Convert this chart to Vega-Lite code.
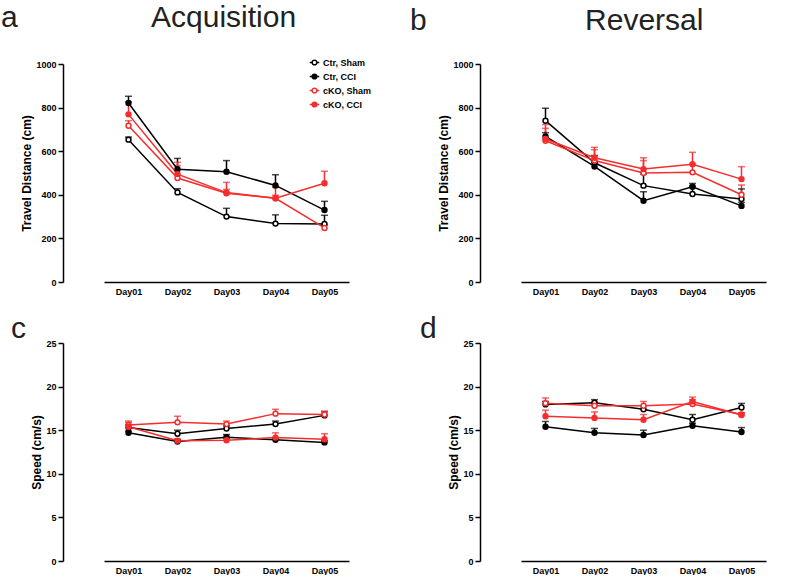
{
  "$schema": "https://vega.github.io/schema/vega-lite/v6.json",
  "background": "white",
  "padding": {"top": 3, "left": 0, "right": 0, "bottom": 0},
  "datasets": {
    "dist": [
      {"phase": "Acquisition", "group": "Ctr, Sham", "day": "Day01", "value": 653, "hi": 665},
      {"phase": "Acquisition", "group": "Ctr, Sham", "day": "Day02", "value": 411, "hi": 428},
      {"phase": "Acquisition", "group": "Ctr, Sham", "day": "Day03", "value": 300, "hi": 338},
      {"phase": "Acquisition", "group": "Ctr, Sham", "day": "Day04", "value": 268, "hi": 308},
      {"phase": "Acquisition", "group": "Ctr, Sham", "day": "Day05", "value": 266, "hi": 306},
      {"phase": "Acquisition", "group": "Ctr, CCI", "day": "Day01", "value": 821, "hi": 852},
      {"phase": "Acquisition", "group": "Ctr, CCI", "day": "Day02", "value": 517, "hi": 567},
      {"phase": "Acquisition", "group": "Ctr, CCI", "day": "Day03", "value": 506, "hi": 557},
      {"phase": "Acquisition", "group": "Ctr, CCI", "day": "Day04", "value": 443, "hi": 492},
      {"phase": "Acquisition", "group": "Ctr, CCI", "day": "Day05", "value": 330, "hi": 370},
      {"phase": "Acquisition", "group": "cKO, Sham", "day": "Day01", "value": 717, "hi": 740},
      {"phase": "Acquisition", "group": "cKO, Sham", "day": "Day02", "value": 477, "hi": 534},
      {"phase": "Acquisition", "group": "cKO, Sham", "day": "Day03", "value": 407, "hi": 425},
      {"phase": "Acquisition", "group": "cKO, Sham", "day": "Day04", "value": 384, "hi": 398},
      {"phase": "Acquisition", "group": "cKO, Sham", "day": "Day05", "value": 248, "hi": 262},
      {"phase": "Acquisition", "group": "cKO, CCI", "day": "Day01", "value": 769, "hi": 827},
      {"phase": "Acquisition", "group": "cKO, CCI", "day": "Day02", "value": 495, "hi": 549},
      {"phase": "Acquisition", "group": "cKO, CCI", "day": "Day03", "value": 410, "hi": 457},
      {"phase": "Acquisition", "group": "cKO, CCI", "day": "Day04", "value": 384, "hi": 434},
      {"phase": "Acquisition", "group": "cKO, CCI", "day": "Day05", "value": 453, "hi": 508},
      {"phase": "Reversal", "group": "Ctr, Sham", "day": "Day01", "value": 740, "hi": 797},
      {"phase": "Reversal", "group": "Ctr, Sham", "day": "Day02", "value": 547, "hi": 580},
      {"phase": "Reversal", "group": "Ctr, Sham", "day": "Day03", "value": 442, "hi": 495},
      {"phase": "Reversal", "group": "Ctr, Sham", "day": "Day04", "value": 404, "hi": 440},
      {"phase": "Reversal", "group": "Ctr, Sham", "day": "Day05", "value": 381, "hi": 427},
      {"phase": "Reversal", "group": "Ctr, CCI", "day": "Day01", "value": 668, "hi": 685},
      {"phase": "Reversal", "group": "Ctr, CCI", "day": "Day02", "value": 530, "hi": 550},
      {"phase": "Reversal", "group": "Ctr, CCI", "day": "Day03", "value": 373, "hi": 414},
      {"phase": "Reversal", "group": "Ctr, CCI", "day": "Day04", "value": 437, "hi": 452},
      {"phase": "Reversal", "group": "Ctr, CCI", "day": "Day05", "value": 349, "hi": 365},
      {"phase": "Reversal", "group": "cKO, Sham", "day": "Day01", "value": 648, "hi": 705},
      {"phase": "Reversal", "group": "cKO, Sham", "day": "Day02", "value": 557, "hi": 607},
      {"phase": "Reversal", "group": "cKO, Sham", "day": "Day03", "value": 500, "hi": 557},
      {"phase": "Reversal", "group": "cKO, Sham", "day": "Day04", "value": 503, "hi": 540},
      {"phase": "Reversal", "group": "cKO, Sham", "day": "Day05", "value": 400, "hi": 445},
      {"phase": "Reversal", "group": "cKO, CCI", "day": "Day01", "value": 656, "hi": 722},
      {"phase": "Reversal", "group": "cKO, CCI", "day": "Day02", "value": 570, "hi": 618},
      {"phase": "Reversal", "group": "cKO, CCI", "day": "Day03", "value": 518, "hi": 570},
      {"phase": "Reversal", "group": "cKO, CCI", "day": "Day04", "value": 540, "hi": 595},
      {"phase": "Reversal", "group": "cKO, CCI", "day": "Day05", "value": 472, "hi": 529}
    ],
    "speed": [
      {"phase": "Acquisition", "group": "Ctr, Sham", "day": "Day01", "value": 15.3, "hi": 15.6},
      {"phase": "Acquisition", "group": "Ctr, Sham", "day": "Day02", "value": 14.6, "hi": 15.0},
      {"phase": "Acquisition", "group": "Ctr, Sham", "day": "Day03", "value": 15.2, "hi": 15.5},
      {"phase": "Acquisition", "group": "Ctr, Sham", "day": "Day04", "value": 15.7, "hi": 16.05},
      {"phase": "Acquisition", "group": "Ctr, Sham", "day": "Day05", "value": 16.7, "hi": 17.1},
      {"phase": "Acquisition", "group": "Ctr, CCI", "day": "Day01", "value": 14.7, "hi": 14.9},
      {"phase": "Acquisition", "group": "Ctr, CCI", "day": "Day02", "value": 13.7, "hi": 13.9},
      {"phase": "Acquisition", "group": "Ctr, CCI", "day": "Day03", "value": 14.2, "hi": 14.5},
      {"phase": "Acquisition", "group": "Ctr, CCI", "day": "Day04", "value": 13.9, "hi": 14.1},
      {"phase": "Acquisition", "group": "Ctr, CCI", "day": "Day05", "value": 13.6, "hi": 13.8},
      {"phase": "Acquisition", "group": "cKO, Sham", "day": "Day01", "value": 15.6, "hi": 16.05},
      {"phase": "Acquisition", "group": "cKO, Sham", "day": "Day02", "value": 15.9, "hi": 16.6},
      {"phase": "Acquisition", "group": "cKO, Sham", "day": "Day03", "value": 15.7, "hi": 16.05},
      {"phase": "Acquisition", "group": "cKO, Sham", "day": "Day04", "value": 16.9, "hi": 17.4},
      {"phase": "Acquisition", "group": "cKO, Sham", "day": "Day05", "value": 16.8, "hi": 17.2},
      {"phase": "Acquisition", "group": "cKO, CCI", "day": "Day01", "value": 15.4, "hi": 15.9},
      {"phase": "Acquisition", "group": "cKO, CCI", "day": "Day02", "value": 13.8, "hi": 14.0},
      {"phase": "Acquisition", "group": "cKO, CCI", "day": "Day03", "value": 13.85, "hi": 14.1},
      {"phase": "Acquisition", "group": "cKO, CCI", "day": "Day04", "value": 14.15, "hi": 14.7},
      {"phase": "Acquisition", "group": "cKO, CCI", "day": "Day05", "value": 13.96, "hi": 14.6},
      {"phase": "Reversal", "group": "Ctr, Sham", "day": "Day01", "value": 17.96, "hi": 18.3},
      {"phase": "Reversal", "group": "Ctr, Sham", "day": "Day02", "value": 18.15, "hi": 18.5},
      {"phase": "Reversal", "group": "Ctr, Sham", "day": "Day03", "value": 17.4, "hi": 17.8},
      {"phase": "Reversal", "group": "Ctr, Sham", "day": "Day04", "value": 16.2, "hi": 16.8},
      {"phase": "Reversal", "group": "Ctr, Sham", "day": "Day05", "value": 17.6, "hi": 18.07},
      {"phase": "Reversal", "group": "Ctr, CCI", "day": "Day01", "value": 15.4, "hi": 16.0},
      {"phase": "Reversal", "group": "Ctr, CCI", "day": "Day02", "value": 14.7, "hi": 15.2},
      {"phase": "Reversal", "group": "Ctr, CCI", "day": "Day03", "value": 14.45, "hi": 15.0},
      {"phase": "Reversal", "group": "Ctr, CCI", "day": "Day04", "value": 15.5, "hi": 15.8},
      {"phase": "Reversal", "group": "Ctr, CCI", "day": "Day05", "value": 14.8, "hi": 15.3},
      {"phase": "Reversal", "group": "cKO, Sham", "day": "Day01", "value": 18.1, "hi": 18.7},
      {"phase": "Reversal", "group": "cKO, Sham", "day": "Day02", "value": 17.8, "hi": 18.2},
      {"phase": "Reversal", "group": "cKO, Sham", "day": "Day03", "value": 17.8, "hi": 18.3},
      {"phase": "Reversal", "group": "cKO, Sham", "day": "Day04", "value": 18.0, "hi": 18.5},
      {"phase": "Reversal", "group": "cKO, Sham", "day": "Day05", "value": 16.8, "hi": 17.0},
      {"phase": "Reversal", "group": "cKO, CCI", "day": "Day01", "value": 16.6, "hi": 17.3},
      {"phase": "Reversal", "group": "cKO, CCI", "day": "Day02", "value": 16.4, "hi": 17.1},
      {"phase": "Reversal", "group": "cKO, CCI", "day": "Day03", "value": 16.2, "hi": 16.8},
      {"phase": "Reversal", "group": "cKO, CCI", "day": "Day04", "value": 18.3, "hi": 18.8},
      {"phase": "Reversal", "group": "cKO, CCI", "day": "Day05", "value": 16.75, "hi": 17.0}
    ]
  },
  "columns": 2,
  "spacing": {"row": 18, "column": 34},
  "resolve": {"legend": {"stroke": "independent", "fill": "independent"}},
  "concat": [
    {
      "width": 312, "height": 218,
      "title": {"text": "a\u00a0\u00a0\u00a0\u00a0\u00a0\u00a0\u00a0\u00a0\u00a0\u00a0\u00a0\u00a0\u00a0\u00a0\u00a0\u00a0Acquisition", "anchor": "start", "frame": "bounds", "fontSize": 30, "fontWeight": "normal", "font": "Liberation Sans", "color": "#222222", "dx": -20, "offset": 24},
      "data": {"name": "dist"},
      "transform": [{"filter": "datum.phase === 'Acquisition'"}],
      "encoding": {"x": {"field": "day", "type": "ordinal", "title": null, "scale": {"type": "point", "range": [41, 286]}}},
      "layer": [
        {"mark": {"type": "rule", "strokeWidth": 1.5},
         "encoding": {"y": {"field": "value", "type": "quantitative", "scale": {"domain": [0, 1000], "nice": false}, "axis": {"values": [0, 200, 400, 600, 800, 1000], "format": "d", "title": "Travel Distance (cm)"}}, "y2": {"field": "hi"},
                      "color": {"field": "group", "type": "nominal", "scale": {"domain": ["Ctr, Sham", "Ctr, CCI", "cKO, Sham", "cKO, CCI"], "range": ["#000000", "#000000", "#f52d2d", "#f52d2d"]}, "legend": null}}},
        {"mark": {"type": "tick", "thickness": 1.5, "size": 7},
         "encoding": {"y": {"field": "hi", "type": "quantitative"},
                      "color": {"field": "group", "type": "nominal", "legend": null}}},
        {"mark": {"type": "line", "strokeWidth": 1.5},
         "encoding": {"y": {"field": "value", "type": "quantitative"},
                      "color": {"field": "group", "type": "nominal", "legend": null}}},
        {"mark": {"type": "point", "shape": "circle", "size": 24, "strokeWidth": 1.5, "opacity": 1},
         "encoding": {"y": {"field": "value", "type": "quantitative"},
                      "stroke": {"field": "group", "type": "nominal", "scale": {"domain": ["Ctr, Sham", "Ctr, CCI", "cKO, Sham", "cKO, CCI"], "range": ["#000000", "#000000", "#f52d2d", "#f52d2d"]},
                                 "legend": {"title": null, "orient": "none", "legendX": 246, "legendY": -7, "symbolType": "M-1,0L-0.5,0M0.5,0L1,0M0.5,0A0.5,0.5,0,1,1,-0.5,0A0.5,0.5,0,1,1,0.5,0", "symbolSize": 90, "symbolStrokeWidth": 1.5, "labelFont": "Liberation Sans", "labelFontWeight": "bold", "labelFontSize": 9, "labelColor": "#000000", "rowPadding": 3, "labelOffset": 3}},
                      "fill": {"field": "group", "type": "nominal", "scale": {"domain": ["Ctr, Sham", "Ctr, CCI", "cKO, Sham", "cKO, CCI"], "range": ["#ffffff", "#000000", "#ffffff", "#f52d2d"]},
                                 "legend": {"title": null, "orient": "none", "legendX": 246, "legendY": -7, "symbolType": "M-1,0L-0.5,0M0.5,0L1,0M0.5,0A0.5,0.5,0,1,1,-0.5,0A0.5,0.5,0,1,1,0.5,0", "symbolSize": 90, "symbolStrokeWidth": 1.5, "labelFont": "Liberation Sans", "labelFontWeight": "bold", "labelFontSize": 9, "labelColor": "#000000", "rowPadding": 3, "labelOffset": 3}}}}
      ]
    },
    {
      "width": 312, "height": 218,
      "title": {"text": "b\u00a0\u00a0\u00a0\u00a0\u00a0\u00a0\u00a0\u00a0\u00a0\u00a0\u00a0\u00a0\u00a0\u00a0\u00a0\u00a0\u00a0\u00a0\u00a0Reversal", "anchor": "start", "frame": "bounds", "fontSize": 30, "fontWeight": "normal", "font": "Liberation Sans", "color": "#222222", "dx": -28, "offset": 24},
      "data": {"name": "dist"},
      "transform": [{"filter": "datum.phase === 'Reversal'"}],
      "encoding": {"x": {"field": "day", "type": "ordinal", "title": null, "scale": {"type": "point", "range": [41, 286]}}},
      "layer": [
        {"mark": {"type": "rule", "strokeWidth": 1.5},
         "encoding": {"y": {"field": "value", "type": "quantitative", "scale": {"domain": [0, 1000], "nice": false}, "axis": {"values": [0, 200, 400, 600, 800, 1000], "format": "d", "title": "Travel Distance (cm)"}}, "y2": {"field": "hi"},
                      "color": {"field": "group", "type": "nominal", "scale": {"domain": ["Ctr, Sham", "Ctr, CCI", "cKO, Sham", "cKO, CCI"], "range": ["#000000", "#000000", "#f52d2d", "#f52d2d"]}, "legend": null}}},
        {"mark": {"type": "tick", "thickness": 1.5, "size": 7},
         "encoding": {"y": {"field": "hi", "type": "quantitative"},
                      "color": {"field": "group", "type": "nominal", "legend": null}}},
        {"mark": {"type": "line", "strokeWidth": 1.5},
         "encoding": {"y": {"field": "value", "type": "quantitative"},
                      "color": {"field": "group", "type": "nominal", "legend": null}}},
        {"mark": {"type": "point", "shape": "circle", "size": 24, "strokeWidth": 1.5, "opacity": 1},
         "encoding": {"y": {"field": "value", "type": "quantitative"},
                      "stroke": {"field": "group", "type": "nominal", "scale": {"domain": ["Ctr, Sham", "Ctr, CCI", "cKO, Sham", "cKO, CCI"], "range": ["#000000", "#000000", "#f52d2d", "#f52d2d"]}, "legend": null},
                      "fill": {"field": "group", "type": "nominal", "scale": {"domain": ["Ctr, Sham", "Ctr, CCI", "cKO, Sham", "cKO, CCI"], "range": ["#ffffff", "#000000", "#ffffff", "#f52d2d"]}, "legend": null}}}
      ]
    },
    {
      "width": 312, "height": 218,
      "title": {"text": "c", "anchor": "start", "frame": "bounds", "fontSize": 30, "fontWeight": "normal", "font": "Liberation Sans", "color": "#222222", "dx": -20, "offset": -5},
      "data": {"name": "speed"},
      "transform": [{"filter": "datum.phase === 'Acquisition'"}],
      "encoding": {"x": {"field": "day", "type": "ordinal", "title": null, "scale": {"type": "point", "range": [41, 286]}}},
      "layer": [
        {"mark": {"type": "rule", "strokeWidth": 1.5},
         "encoding": {"y": {"field": "value", "type": "quantitative", "scale": {"domain": [0, 25], "nice": false}, "axis": {"values": [0, 5, 10, 15, 20, 25], "title": "Speed (cm/s)"}}, "y2": {"field": "hi"},
                      "color": {"field": "group", "type": "nominal", "scale": {"domain": ["Ctr, Sham", "Ctr, CCI", "cKO, Sham", "cKO, CCI"], "range": ["#000000", "#000000", "#f52d2d", "#f52d2d"]}, "legend": null}}},
        {"mark": {"type": "tick", "thickness": 1.5, "size": 7},
         "encoding": {"y": {"field": "hi", "type": "quantitative"},
                      "color": {"field": "group", "type": "nominal", "legend": null}}},
        {"mark": {"type": "line", "strokeWidth": 1.5},
         "encoding": {"y": {"field": "value", "type": "quantitative"},
                      "color": {"field": "group", "type": "nominal", "legend": null}}},
        {"mark": {"type": "point", "shape": "circle", "size": 24, "strokeWidth": 1.5, "opacity": 1},
         "encoding": {"y": {"field": "value", "type": "quantitative"},
                      "stroke": {"field": "group", "type": "nominal", "scale": {"domain": ["Ctr, Sham", "Ctr, CCI", "cKO, Sham", "cKO, CCI"], "range": ["#000000", "#000000", "#f52d2d", "#f52d2d"]}, "legend": null},
                      "fill": {"field": "group", "type": "nominal", "scale": {"domain": ["Ctr, Sham", "Ctr, CCI", "cKO, Sham", "cKO, CCI"], "range": ["#ffffff", "#000000", "#ffffff", "#f52d2d"]}, "legend": null}}}
      ]
    },
    {
      "width": 312, "height": 218,
      "title": {"text": "d", "anchor": "start", "frame": "bounds", "fontSize": 30, "fontWeight": "normal", "font": "Liberation Sans", "color": "#222222", "dx": -28, "offset": -5},
      "data": {"name": "speed"},
      "transform": [{"filter": "datum.phase === 'Reversal'"}],
      "encoding": {"x": {"field": "day", "type": "ordinal", "title": null, "scale": {"type": "point", "range": [41, 286]}}},
      "layer": [
        {"mark": {"type": "rule", "strokeWidth": 1.5},
         "encoding": {"y": {"field": "value", "type": "quantitative", "scale": {"domain": [0, 25], "nice": false}, "axis": {"values": [0, 5, 10, 15, 20, 25], "title": "Speed (cm/s)"}}, "y2": {"field": "hi"},
                      "color": {"field": "group", "type": "nominal", "scale": {"domain": ["Ctr, Sham", "Ctr, CCI", "cKO, Sham", "cKO, CCI"], "range": ["#000000", "#000000", "#f52d2d", "#f52d2d"]}, "legend": null}}},
        {"mark": {"type": "tick", "thickness": 1.5, "size": 7},
         "encoding": {"y": {"field": "hi", "type": "quantitative"},
                      "color": {"field": "group", "type": "nominal", "legend": null}}},
        {"mark": {"type": "line", "strokeWidth": 1.5},
         "encoding": {"y": {"field": "value", "type": "quantitative"},
                      "color": {"field": "group", "type": "nominal", "legend": null}}},
        {"mark": {"type": "point", "shape": "circle", "size": 24, "strokeWidth": 1.5, "opacity": 1},
         "encoding": {"y": {"field": "value", "type": "quantitative"},
                      "stroke": {"field": "group", "type": "nominal", "scale": {"domain": ["Ctr, Sham", "Ctr, CCI", "cKO, Sham", "cKO, CCI"], "range": ["#000000", "#000000", "#f52d2d", "#f52d2d"]}, "legend": null},
                      "fill": {"field": "group", "type": "nominal", "scale": {"domain": ["Ctr, Sham", "Ctr, CCI", "cKO, Sham", "cKO, CCI"], "range": ["#ffffff", "#000000", "#ffffff", "#f52d2d"]}, "legend": null}}}
      ]
    }
  ],
  "config": {
    "view": {"stroke": null},
    "font": "Liberation Sans",
    "axis": {"grid": false, "domainColor": "#000000", "domainWidth": 1.5, "tickColor": "#000000", "tickWidth": 1.5, "labelFont": "Liberation Sans", "labelFontWeight": "bold", "labelFontSize": 9, "labelColor": "#000000", "titleFont": "Liberation Sans", "titleFontWeight": "bold", "titleFontSize": 12, "titleColor": "#000000"},
    "axisX": {"ticks": false, "labelPadding": 5, "labelAngle": 0},
    "axisY": {"tickSize": 5, "labelPadding": 2, "titlePadding": 2}
  }
}
